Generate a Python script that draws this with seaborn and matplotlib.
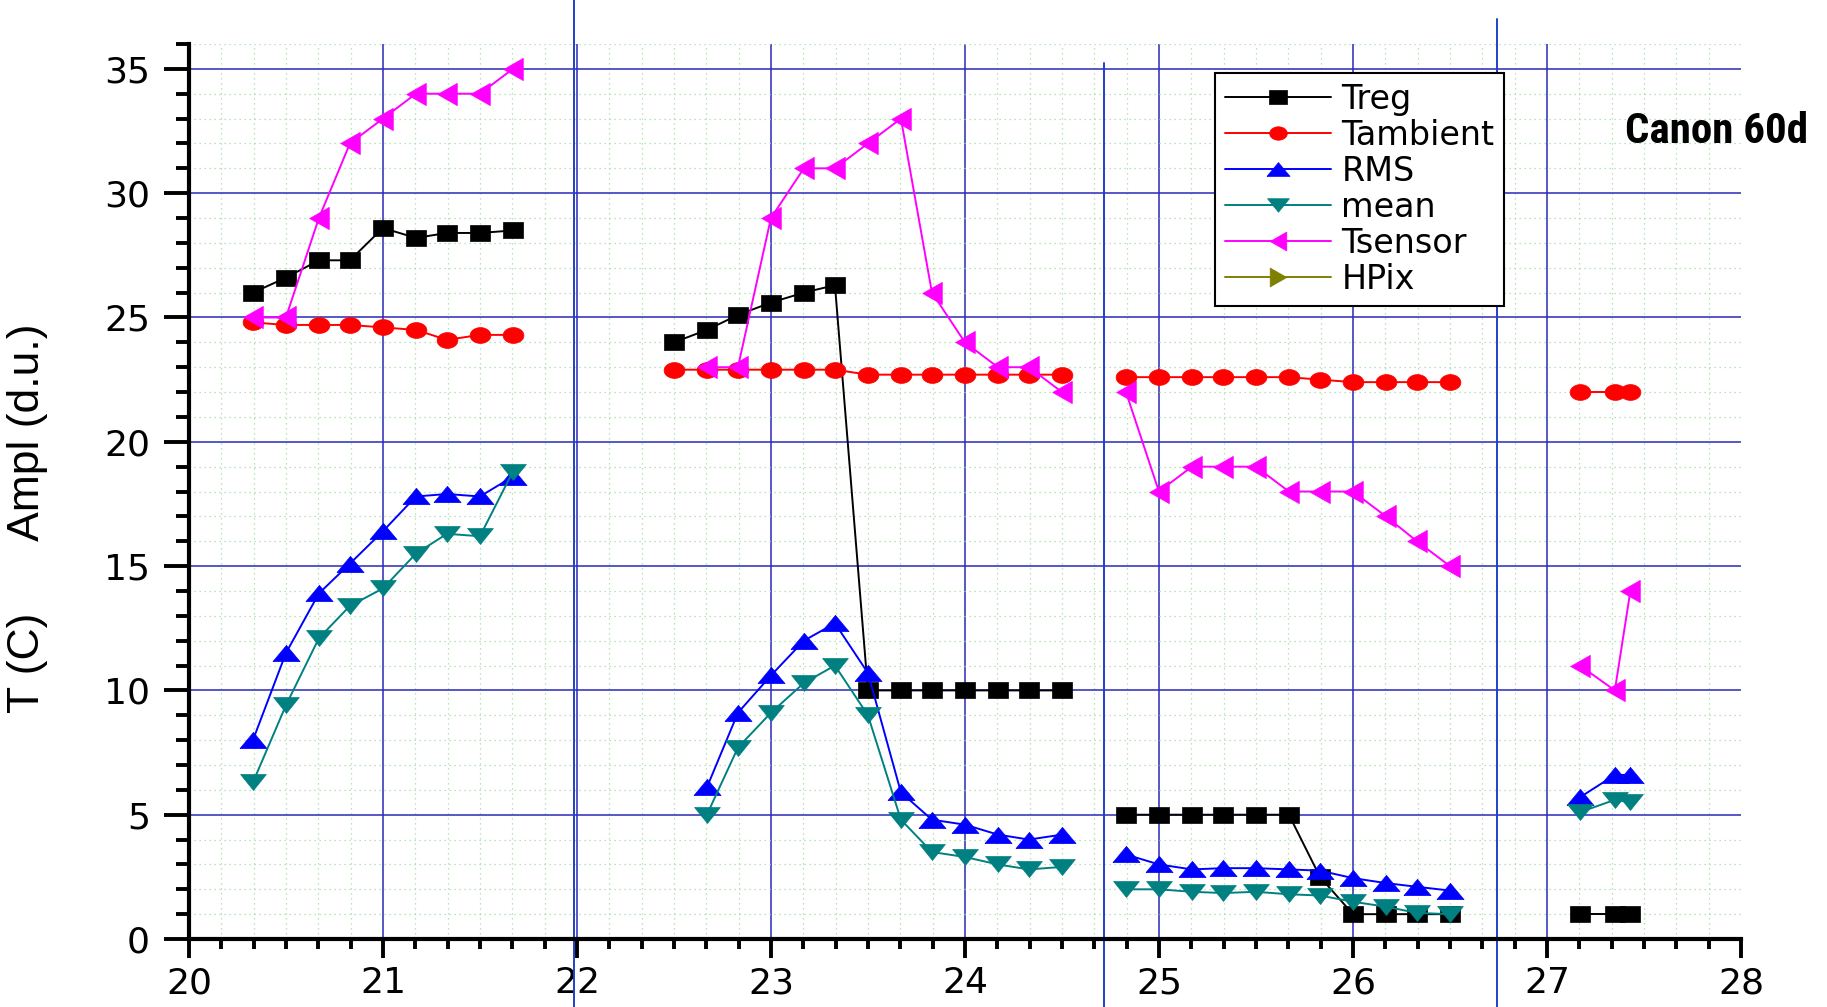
import numpy as np
import pandas as pd
import matplotlib
matplotlib.use("Agg")
import matplotlib.pyplot as plt
from matplotlib.lines import Line2D
from matplotlib.ticker import MultipleLocator, AutoMinorLocator
import seaborn as sns

sns.set_style("ticks")
plt.rcParams['font.family'] = ['DejaVu Sans']
for k in ["text.color", "axes.labelcolor", "xtick.color", "ytick.color"]:
    plt.rcParams[k] = "black"

# --- data (x = time, y = T (C) / Ampl (d.u.)) ---
# segment 1
x1 = [20.33, 20.5, 20.67, 20.83, 21.0, 21.17, 21.33, 21.5, 21.67]
treg1 = [26.0, 26.6, 27.3, 27.3, 28.6, 28.2, 28.4, 28.4, 28.5]
tamb1 = [24.8, 24.7, 24.7, 24.7, 24.6, 24.5, 24.1, 24.3, 24.3]
rms1 = [8.0, 11.5, 13.9, 15.1, 16.4, 17.8, 17.9, 17.8, 18.6]
mean1 = [6.3, 9.4, 12.1, 13.4, 14.1, 15.5, 16.3, 16.2, 18.8]
tsens1 = [25, 25, 29, 32, 33, 34, 34, 34, 35]

# segment 2
x2a = [22.5, 22.67, 22.83, 23.0, 23.17, 23.33, 23.5, 23.67, 23.83, 24.0, 24.17, 24.33, 24.5]
treg2 = [24.0, 24.5, 25.1, 25.6, 26.0, 26.3, 10, 10, 10, 10, 10, 10, 10]
tamb2 = [22.9, 22.9, 22.9, 22.9, 22.9, 22.9, 22.7, 22.7, 22.7, 22.7, 22.7, 22.7, 22.7]
x2b = [22.67, 22.83, 23.0, 23.17, 23.33, 23.5, 23.67, 23.83, 24.0, 24.17, 24.33, 24.5]
rms2 = [6.1, 9.1, 10.6, 12.0, 12.7, 10.7, 5.9, 4.8, 4.6, 4.2, 4.0, 4.2]
mean2 = [5.0, 7.7, 9.1, 10.3, 11.0, 9.0, 4.8, 3.5, 3.3, 3.0, 2.8, 2.9]
tsens2 = [23, 23, 29, 31, 31, 32, 33, 26, 24, 23, 23, 22]

# segment 3
x3 = [24.83, 25.0, 25.17, 25.33, 25.5, 25.67, 25.83, 26.0, 26.17, 26.33, 26.5]
treg3 = [5, 5, 5, 5, 5, 5, 2.5, 1, 1, 1, 1]
tamb3 = [22.6, 22.6, 22.6, 22.6, 22.6, 22.6, 22.5, 22.4, 22.4, 22.4, 22.4]
rms3 = [3.4, 3.0, 2.8, 2.85, 2.85, 2.8, 2.75, 2.45, 2.25, 2.1, 1.95]
mean3 = [2.0, 2.0, 1.9, 1.85, 1.9, 1.8, 1.75, 1.5, 1.3, 1.05, 1.0]
tsens3 = [22, 18, 19, 19, 19, 18, 18, 18, 17, 16, 15]

# segment 4
x4 = [27.17, 27.35, 27.43]
treg4 = [1, 1, 1]
tamb4 = [22, 22, 22]
rms4 = [5.7, 6.6, 6.6]
mean4 = [5.1, 5.6, 5.5]
tsens4 = [11, 10, 14]

series_names = ["Treg", "Tambient", "RMS", "mean", "Tsensor", "HPix"]
series_colors = ["#000000", "#ff0000", "#0000ff", "#008080", "#ff00ff", "#808000"]

rows = []
def add(name, seg, xs, ys):
    for xv, yv in zip(xs, ys):
        rows.append({"x": xv, "value": yv, "series": name, "segment": seg})

add("Treg", 1, x1, treg1); add("Treg", 2, x2a, treg2); add("Treg", 3, x3, treg3); add("Treg", 4, x4, treg4)
add("Tambient", 1, x1, tamb1); add("Tambient", 2, x2a, tamb2); add("Tambient", 3, x3, tamb3); add("Tambient", 4, x4, tamb4)
add("RMS", 1, x1, rms1); add("RMS", 2, x2b, rms2); add("RMS", 3, x3, rms3); add("RMS", 4, x4, rms4)
add("mean", 1, x1, mean1); add("mean", 2, x2b, mean2); add("mean", 3, x3, mean3); add("mean", 4, x4, mean4)
add("Tsensor", 1, x1, tsens1); add("Tsensor", 2, x2b, tsens2); add("Tsensor", 3, x3, tsens3); add("Tsensor", 4, x4, tsens4)
df = pd.DataFrame(rows)

# slightly flattened markers, like the original picture
ell = np.linspace(0, 2 * np.pi, 40)
markers = {
    "Treg": ([(-1, -0.76), (1, -0.76), (1, 0.76), (-1, 0.76), (-1, -0.76)], 14.5),
    "Tambient": (list(zip(np.cos(ell), 0.76 * np.sin(ell))), 15),
    "RMS": ([(-1, -0.6), (1, -0.6), (0, 0.6), (-1, -0.6)], 19.5),
    "mean": ([(-1, 0.62), (1, 0.62), (0, -0.62), (-1, 0.62)], 18.5),
    "Tsensor": ([(-0.88, 0), (0.88, 1), (0.88, -1), (-0.88, 0)], 16),
    "HPix": ([(0.88, 0), (-0.88, 1), (-0.88, -1), (0.88, 0)], 16),
}

fig = plt.figure(figsize=(18.27, 10.07), dpi=100)
ax = fig.add_axes([0.1034, 0.0675, 0.8495, 0.8888])

for name, col in zip(series_names, series_colors):
    sub = df[df["series"] == name]
    if len(sub) == 0:
        continue
    mk, ms = markers[name]
    sns.lineplot(data=sub, x="x", y="value", units="segment", estimator=None,
                 ax=ax, color=col, lw=1.4, marker=mk, markersize=ms,
                 markeredgecolor=col, markeredgewidth=0.5, legend=False, zorder=5)

ax.set_xlim(20, 28)
ax.set_ylim(0, 36)
ax.xaxis.set_major_locator(MultipleLocator(1))
ax.xaxis.set_minor_locator(AutoMinorLocator(6))
ax.yaxis.set_minor_locator(MultipleLocator(1))
ax.set_yticks(range(0, 36, 5))

ax.grid(which="major", color="#2a2ab8", lw=1.1, ls="-", zorder=1)
ax.grid(which="minor", color="#a3dca3", lw=0.9, ls=(0, (1, 3)), zorder=0)
for t in ax.xaxis.get_major_ticks():
    if t.get_loc() in (20, 28):
        t.gridline.set_visible(False)
ax.set_axisbelow(True)

for s in ["top", "right"]:
    ax.spines[s].set_visible(False)
for s in ["left", "bottom"]:
    ax.spines[s].set_linewidth(3.0)
    ax.spines[s].set_color("black")

ax.tick_params(axis="y", which="major", direction="out", length=18, width=2.8, pad=10, labelsize=26)
ax.tick_params(axis="y", which="minor", direction="out", length=9.5, width=2.8)
ax.tick_params(axis="x", which="major", direction="out", length=13.5, width=2.8, pad=6, labelsize=26)
ax.tick_params(axis="x", which="minor", direction="out", length=7, width=2.8)

ax.set_xlabel("")
ax.set_ylabel("T (C)      Ampl (d.u.)", fontsize=32, family=["Liberation Sans", "DejaVu Sans"])
ax.yaxis.set_label_coords(-0.091, 0.47)

# blue separator lines drawn over the figure
sep_x = [21.985, 24.715, 26.74]
sep_top = [1.05, 0.979, 1.028]
for xv, top in zip(sep_x, sep_top):
    ax.axvline(xv, ymin=-0.08, ymax=top, color="#2040c8", lw=1.4, clip_on=False, zorder=2)

handles = []
for name, col in zip(series_names, series_colors):
    mk, ms = markers[name]
    handles.append(Line2D([], [], color=col, lw=1.4, marker=mk, markersize=ms * 0.85,
                          markeredgecolor=col, markeredgewidth=0.5))
leg = ax.legend(handles, series_names, loc="upper left", bbox_to_anchor=(0.661, 0.9676),
                fontsize=24, frameon=True, fancybox=False, framealpha=1,
                edgecolor="black", handlelength=3.2, handletextpad=0.3,
                labelspacing=0.09, borderpad=0.3, borderaxespad=0)
leg.get_frame().set_linewidth(1.5)
leg.set_zorder(10)

ax.text(1.043, 0.902, "Canon 60d", transform=ax.transAxes, ha="right", va="center",
        fontsize=31, fontweight="bold",
        family=["Roboto Condensed", "Liberation Sans Narrow", "Lato", "DejaVu Sans"], zorder=11)

fig.savefig("out.png", dpi=100)
